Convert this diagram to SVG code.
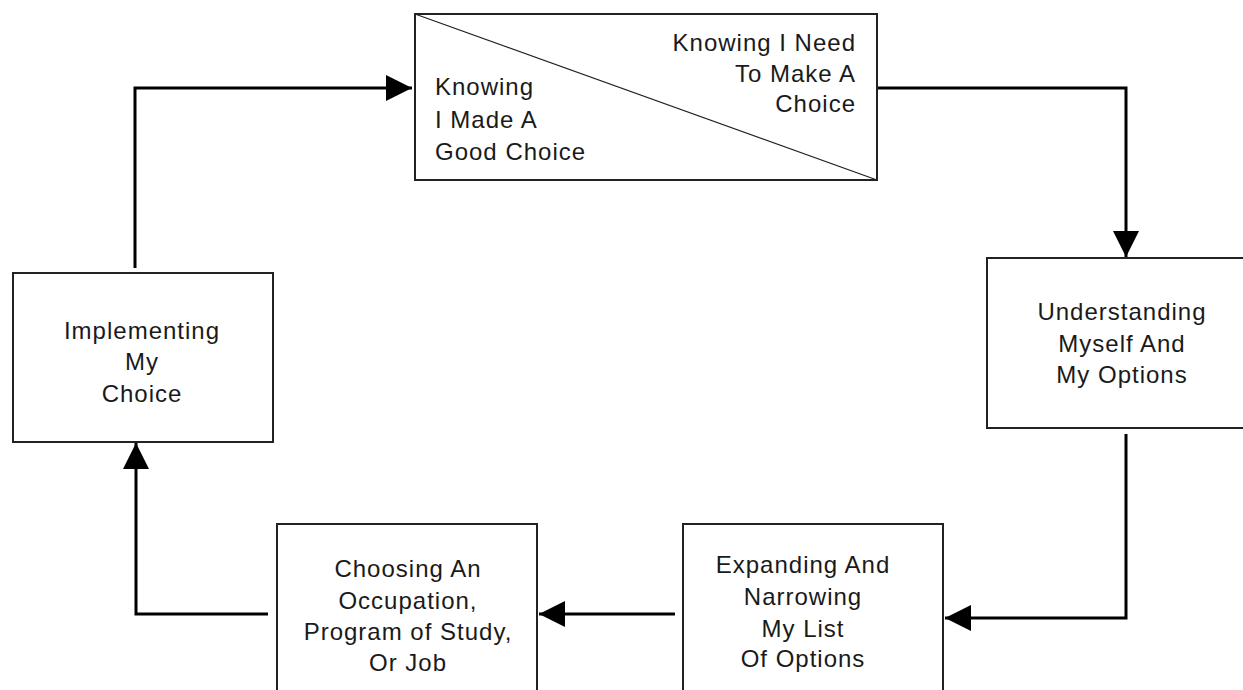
<svg xmlns="http://www.w3.org/2000/svg" width="1243" height="690" viewBox="0 0 1243 690">
  <style>
    .box { fill: #ffffff; stroke: #222222; stroke-width: 2; }
    .diag { stroke: #222222; stroke-width: 1.3; fill: none; }
    .conn { fill: none; stroke: #000000; stroke-width: 3; }
    text { font-family: "Liberation Sans", Arial, sans-serif; font-size: 24px; letter-spacing: 1px; fill: #1a1a1a; }
    .c { text-anchor: middle; }
    .r { text-anchor: end; }
  </style>
  <defs>
    <marker id="arrow" markerUnits="userSpaceOnUse" markerWidth="26" markerHeight="26" refX="24" refY="12" orient="auto" viewBox="0 0 24 24">
      <path d="M0,0 L24,12 L0,24 z" fill="#000000"/>
    </marker>
  </defs>
  <rect width="1243" height="690" fill="#ffffff"/>

  <g id="connectors">
    <path class="conn" d="M135,268 V88 H412" marker-end="url(#arrow)"/>
    <path class="conn" d="M877,88 H1126 V257" marker-end="url(#arrow)"/>
    <path class="conn" d="M1126,434 V618 H945" marker-end="url(#arrow)"/>
    <path class="conn" d="M675,614 H539" marker-end="url(#arrow)"/>
    <path class="conn" d="M268,614 H136 V443" marker-end="url(#arrow)"/>
  </g>

  <g id="node-knowing">
    <rect class="box" x="415" y="14" width="462" height="166"/>
    <line class="diag" x1="415" y1="14" x2="877" y2="180"/>
    <text class="r" x="856" y="51">Knowing I Need</text>
    <text class="r" x="856" y="82">To Make A</text>
    <text class="r" x="856" y="112">Choice</text>
    <text x="435" y="95">Knowing</text>
    <text x="435" y="128">I Made A</text>
    <text x="435" y="160">Good Choice</text>
  </g>

  <g id="node-understanding">
    <rect class="box" x="987" y="258" width="280" height="170"/>
    <text class="c" x="1122" y="320">Understanding</text>
    <text class="c" x="1122" y="352">Myself And</text>
    <text class="c" x="1122" y="383">My Options</text>
  </g>

  <g id="node-expanding">
    <rect class="box" x="683" y="524" width="260" height="180"/>
    <text class="c" x="803" y="573">Expanding And</text>
    <text class="c" x="803" y="605">Narrowing</text>
    <text class="c" x="803" y="637">My List</text>
    <text class="c" x="803" y="667">Of Options</text>
  </g>

  <g id="node-choosing">
    <rect class="box" x="277" y="524" width="260" height="180"/>
    <text class="c" x="408" y="577">Choosing An</text>
    <text class="c" x="408" y="609">Occupation,</text>
    <text class="c" x="408" y="640">Program of Study,</text>
    <text class="c" x="408" y="671">Or Job</text>
  </g>

  <g id="node-implementing">
    <rect class="box" x="13" y="273" width="260" height="169"/>
    <text class="c" x="142" y="339">Implementing</text>
    <text class="c" x="142" y="370">My</text>
    <text class="c" x="142" y="402">Choice</text>
  </g>
</svg>
